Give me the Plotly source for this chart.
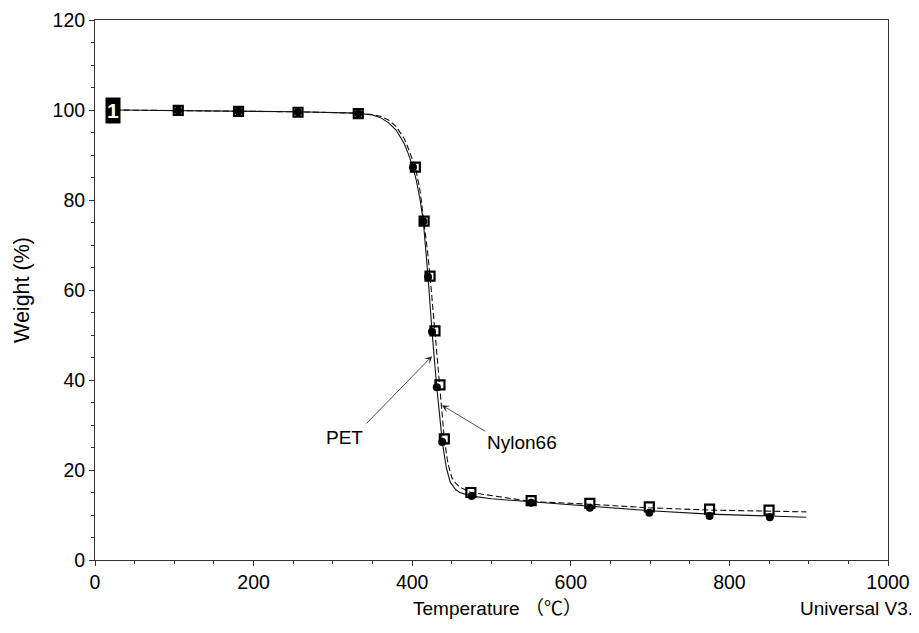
import plotly.graph_objects as go

# ---- data ----
pet_temp = [25, 100, 180, 255, 330, 350, 360, 370, 380, 390, 395, 401, 405, 410, 414, 417, 420, 425, 431, 438, 443, 448, 455, 460, 475, 500, 550, 625, 700, 775, 850, 897]
pet_weight = [100, 99.9, 99.8, 99.6, 99.3, 98.9, 98.3, 97.2, 95.5, 92.5, 90.3, 87.3, 84.5, 80, 75.3, 69.5, 62.9, 50.7, 38.4, 26.2, 20.5, 17.3, 15.6, 15.0, 14.2, 13.6, 12.9, 11.85, 10.95, 10.2, 9.8, 9.5]

nylon_temp = [25, 100, 180, 255, 330, 350, 360, 370, 380, 390, 395, 404, 410, 415, 419, 422.5, 428.7, 435, 440.5, 445, 450, 455, 460, 474, 500, 550, 624, 699, 775, 850, 897]
nylon_weight = [100, 99.9, 99.8, 99.6, 99.3, 99.0, 98.6, 97.8, 96.3, 93.6, 91.5, 87.3, 82, 75.3, 69, 63.1, 50.9, 38.9, 26.9, 21.5, 18.3, 17.0, 16.2, 15.0, 14.3, 13.0, 12.4, 11.6, 11.1, 10.95, 10.7]

pet_marker_temp = [105, 181, 256, 332, 401, 414, 420, 425, 431, 438, 475, 550, 624, 699, 775, 851]
pet_marker_weight = [99.9, 99.7, 99.5, 99.2, 87.3, 75.3, 62.9, 50.7, 38.4, 26.2, 14.2, 12.7, 11.6, 10.5, 9.8, 9.5]

nylon_marker_temp = [105, 181, 256, 332, 404, 415, 422.5, 428.7, 435, 440.5, 474, 550, 624, 699, 775, 850]
nylon_marker_weight = [99.9, 99.7, 99.5, 99.2, 87.3, 75.3, 63.1, 50.9, 38.9, 26.9, 15.0, 13.2, 12.6, 11.8, 11.3, 11.1]

x_ticks = [0, 200, 400, 600, 800, 1000]
y_ticks = [0, 20, 40, 60, 80, 100, 120]

FONT = "Liberation Sans, Arial, Noto Sans CJK SC, sans-serif"

# page offset (default body margin) and wanted plot-area pixel frame in the window
OFF = 8
L, R, T, B = 95, 888, 20, 560
FIG_W, FIG_H = 919 - OFF, 633 - OFF
W_PX, H_PX = R - L, B - T


def px(xp, yp):
    return (xp - L) / W_PX, (B - yp) / H_PX


fig = go.Figure()
fig.add_trace(go.Scatter(x=pet_temp, y=pet_weight, mode="lines", name="PET",
                         line=dict(color="#111111", width=1.1)))
fig.add_trace(go.Scatter(x=nylon_temp, y=nylon_weight, mode="lines", name="Nylon66",
                         line=dict(color="#111111", width=1.1, dash="6px,3px")))
fig.add_trace(go.Scatter(x=pet_marker_temp, y=pet_marker_weight, mode="markers",
                         marker=dict(symbol="circle", size=8, color="#000000")))
fig.add_trace(go.Scatter(x=nylon_marker_temp, y=nylon_marker_weight, mode="markers",
                         marker=dict(symbol="square-open", size=9, color="#000000",
                                     line=dict(width=2.2, color="#000000"))))

ux, uy = px(798, 608)
tx, ty = px(497, 608)
wx, wy = px(22, 290)

annotations = [
    dict(x=23, y=100, xref="x", yref="y", text="<b>1</b>", showarrow=False,
         font=dict(family=FONT, size=21, color="white"), bgcolor="black", borderpad=1),
    dict(x=425, y=45.3, ax=340.5, ay=30, xref="x", yref="y", axref="x", ayref="y",
         text="", showarrow=True, arrowhead=3, arrowsize=1.6, arrowwidth=0.8, arrowcolor="#222222"),
    dict(x=437.6, y=34.4, ax=494, ay=28.4, xref="x", yref="y", axref="x", ayref="y",
         text="", showarrow=True, arrowhead=3, arrowsize=1.6, arrowwidth=0.8, arrowcolor="#222222"),
    dict(x=315, y=27.3, xref="x", yref="y", text="PET", showarrow=False,
         font=dict(family=FONT, size=19, color="black")),
    dict(x=538, y=26.2, xref="x", yref="y", text="Nylon66", showarrow=False,
         font=dict(family=FONT, size=19, color="black")),
    dict(x=ux, y=uy, xref="paper", yref="paper", text="Universal V3.", showarrow=False,
         xanchor="left", yanchor="middle", font=dict(family=FONT, size=19, color="black")),
    dict(x=tx, y=ty, xref="paper", yref="paper", text="Temperature （℃）", showarrow=False,
         xanchor="center", yanchor="middle", font=dict(family=FONT, size=19, color="black")),
    dict(x=wx, y=wy, xref="paper", yref="paper", text="Weight (%)", showarrow=False,
         textangle=-90, xanchor="center", yanchor="middle",
         font=dict(family=FONT, size=21.5, color="black")),
]

fig.update_layout(
    width=FIG_W, height=FIG_H,
    margin=dict(l=L - OFF, r=FIG_W + OFF - R, t=T - OFF, b=FIG_H + OFF - B, autoexpand=False),
    paper_bgcolor="white", plot_bgcolor="white",
    showlegend=False,
    font=dict(family=FONT, size=19.5, color="black"),
    annotations=annotations,
)
axis_common = dict(ticks="outside", ticklen=5, tickcolor="#333333", showline=True,
                   linecolor="#333333", linewidth=1, mirror=True, showgrid=False,
                   zeroline=False, automargin=False,
                   tickfont=dict(family=FONT, size=19.5, color="black"))
fig.update_xaxes(range=[0, 1000], tickvals=x_ticks,
                 minor=dict(dtick=50, ticks="outside", ticklen=3, tickcolor="#333333"),
                 **axis_common)
fig.update_yaxes(range=[0, 120], tickvals=y_ticks,
                 minor=dict(dtick=5, ticks="outside", ticklen=3, tickcolor="#333333"),
                 **axis_common)

fig.write_html("out.html")
